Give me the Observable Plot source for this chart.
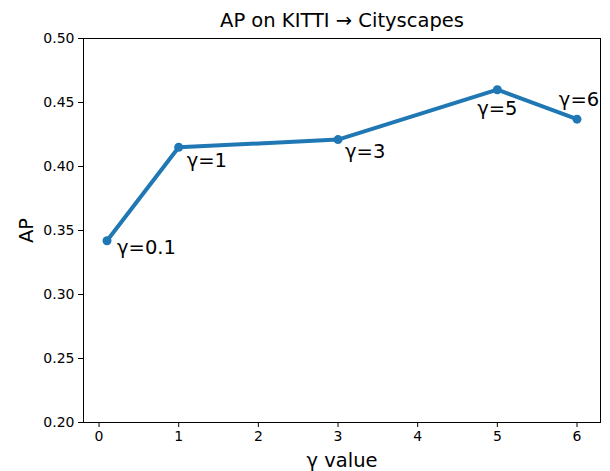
<!DOCTYPE html>
<html>
<head>
<meta charset="utf-8">
<script src="https://cdn.jsdelivr.net/npm/d3@7"></script>
<script src="https://cdn.jsdelivr.net/npm/@observablehq/plot@0.6"></script>
<style>
  html, body { margin: 0; padding: 0; background: #fff; }
  svg { font-family: "DejaVu Sans", sans-serif; }
</style>
</head>
<body>
<div id="chart"></div>
<script>
// Data
const gammas = [0.1, 1, 3, 5, 6];
const apValues = [0.342, 0.415, 0.421, 0.460, 0.437];
const pointLabels = ["γ=0.1", "γ=1", "γ=3", "γ=5", "γ=6"];
const xTicks = [0, 1, 2, 3, 4, 5, 6];
const yTicks = [0.20, 0.25, 0.30, 0.35, 0.40, 0.45, 0.50];
const titleText = "AP on KITTI → Cityscapes";
const xLabel = "γ value";
const yLabel = "AP";

const data = gammas.map((g, i) => ({gamma: g, ap: apValues[i], label: pointLabels[i]}));

// annotation placement (style only)
const labelStyle = [
  {textAnchor: "start", dx: 10, dy: 13},
  {textAnchor: "start", dx: 8, dy: 20},
  {textAnchor: "start", dx: 7, dy: 18},
  {textAnchor: "middle", dx: 0, dy: 25},
  {textAnchor: "middle", dx: 2, dy: -13}
];

const color = "#1f77b4";
const font = "DejaVu Sans";

const labelMarks = data.map((d, i) => Plot.text([d], {
  x: "gamma", y: "ap", text: "label",
  textAnchor: labelStyle[i].textAnchor, lineAnchor: "bottom",
  dx: labelStyle[i].dx, dy: labelStyle[i].dy,
  fontSize: 19.5, fill: "black", fontFamily: font
}));

const chart = Plot.plot({
  width: 610,
  height: 471,
  marginLeft: 83,
  marginRight: 10,
  marginTop: 38,
  marginBottom: 49,
  style: {fontFamily: font, background: "white"},
  x: {domain: [-0.195, 6.295]},
  y: {domain: [0.2, 0.5]},
  marks: [
    Plot.frame({stroke: "black", strokeWidth: 1}),
    Plot.axisX(xTicks, {tickSize: 5, tickPadding: 4, fontSize: 14, label: null, stroke: "black", fill: "black", strokeOpacity: 1}),
    Plot.axisY(yTicks, {tickSize: 5, tickPadding: 4, fontSize: 14, label: null, tickFormat: d3.format(".2f"), stroke: "black", fill: "black", strokeOpacity: 1}),
    Plot.line(data, {x: "gamma", y: "ap", stroke: color, strokeWidth: 4, strokeLinecap: "round", strokeLinejoin: "round"}),
    Plot.dot(data, {x: "gamma", y: "ap", r: 4.5, fill: color, stroke: "none"}),
    ...labelMarks,
    Plot.text([titleText], {frameAnchor: "top", textAnchor: "middle", lineAnchor: "bottom", dy: -12, fontSize: 19.5, fill: "black", fontFamily: font}),
    Plot.text([xLabel], {frameAnchor: "bottom", textAnchor: "middle", lineAnchor: "bottom", dy: 44, fontSize: 19.5, fill: "black", fontFamily: font}),
    Plot.text([yLabel], {frameAnchor: "left", textAnchor: "middle", lineAnchor: "bottom", rotate: -90, dx: -51, fontSize: 19.5, fill: "black", fontFamily: font})
  ]
});
document.getElementById("chart").appendChild(chart);
</script>
</body>
</html>
